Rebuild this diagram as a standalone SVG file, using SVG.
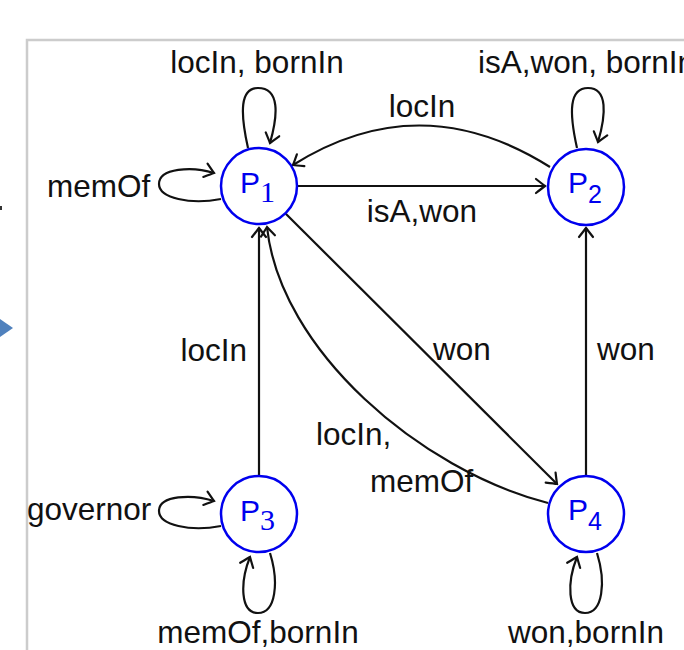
<svg xmlns="http://www.w3.org/2000/svg" width="684" height="650" viewBox="0 0 684 650">
  <defs>
    <style>
      .lbl { font-family: "Liberation Sans", Arial, sans-serif; font-size: 31.5px; fill: #111; }
      .node circle { fill: #fff; stroke: #0000ee; stroke-width: 2.5; }
      .pn { font-family: "Liberation Sans", Arial, sans-serif; font-size: 30px; fill: #0000ee; }
      .subs { font-family: "Liberation Serif", "Times New Roman", serif; font-size: 30px; }
      .subn { font-family: "Liberation Sans", Arial, sans-serif; font-size: 25px; }
      .edge { fill: none; stroke: #111; stroke-width: 2.2; marker-end: url(#to); }
    </style>
    <marker id="to" viewBox="-11 -9 13 18" refX="0" refY="0" markerWidth="13" markerHeight="18" markerUnits="userSpaceOnUse" orient="auto">
      <path d="M-9,-7 Q-2,-1.5 0,0 Q-2,1.5 -9,7" fill="none" stroke="#111" stroke-width="2.2" stroke-linecap="round"/>
    </marker>
  </defs>

  <!-- frame edges -->
  <path d="M27,650 V40 H684" fill="none" stroke="#cccccc" stroke-width="2.5"/>
  <polygon points="0,319 13,328 0,337" fill="#4f81bd"/>
  <rect x="0" y="206" width="2" height="4" fill="#333"/>

  <!-- connectors -->
  <g id="edges">
    <path class="edge" d="M297,186 H545"/>
    <path class="edge" d="M550,167 Q420,85 293,165"/>
    <path class="edge" d="M285,213 L557,484"/>
    <path class="edge" d="M548,503 C420,470 280,350 267,227"/>
    <path class="edge" d="M259,475 V228"/>
    <path class="edge" d="M586,475 V228"/>
    <!-- self loops -->
    <path class="edge" d="M248,148 C240,112 240,88 258,88 C280,88 278,115 270,143"/>
    <path class="edge" d="M577,148 C569,112 569,88 588,88 C608,88 606,115 598,142"/>
    <path class="edge" d="M221,199 C190,205 159,198 159,184 C159,168 192,166 214,173"/>
    <path class="edge" d="M221,526 C190,532 159,525 159,511 C159,495 192,494 214,501"/>
    <path class="edge" d="M270,553 C279,582 276,613 258,613 C240,613 240,582 250,557"/>
    <path class="edge" d="M597,553 C606,582 603,613 585,613 C567,613 567,582 577,557"/>
  </g>

  <!-- edge labels -->
  <g id="labels">
    <text class="lbl" x="257" y="73" text-anchor="middle">locIn, bornIn</text>
    <text class="lbl" x="478" y="73">isA,won, bornIn</text>
    <text class="lbl" x="422" y="117" text-anchor="middle">locIn</text>
    <text class="lbl" x="47" y="197">memOf</text>
    <text class="lbl" x="422" y="222" text-anchor="middle">isA,won</text>
    <text class="lbl" x="247" y="361" text-anchor="end">locIn</text>
    <text class="lbl" x="433" y="360">won</text>
    <text class="lbl" x="597" y="360">won</text>
    <text class="lbl" x="316" y="445">locIn,</text>
    <text class="lbl" x="370" y="492">memOf</text>
    <text class="lbl" x="27" y="520">governor</text>
    <text class="lbl" x="258" y="643" text-anchor="middle">memOf,bornIn</text>
    <text class="lbl" x="586" y="643" text-anchor="middle">won,bornIn</text>
  </g>

  <!-- nodes -->
  <g id="P1" class="node">
    <circle cx="259" cy="186" r="38"/>
    <text class="pn" x="240" y="193">P<tspan class="subs" dy="9">1</tspan></text>
  </g>
  <g id="P2" class="node">
    <circle cx="586" cy="187" r="38"/>
    <text class="pn" x="568" y="193">P<tspan class="subn" dy="10">2</tspan></text>
  </g>
  <g id="P3" class="node">
    <circle cx="259" cy="514" r="38"/>
    <text class="pn" x="240" y="521">P<tspan class="subs" dy="9">3</tspan></text>
  </g>
  <g id="P4" class="node">
    <circle cx="586" cy="514" r="38"/>
    <text class="pn" x="568" y="520">P<tspan class="subn" dy="10">4</tspan></text>
  </g>
</svg>
